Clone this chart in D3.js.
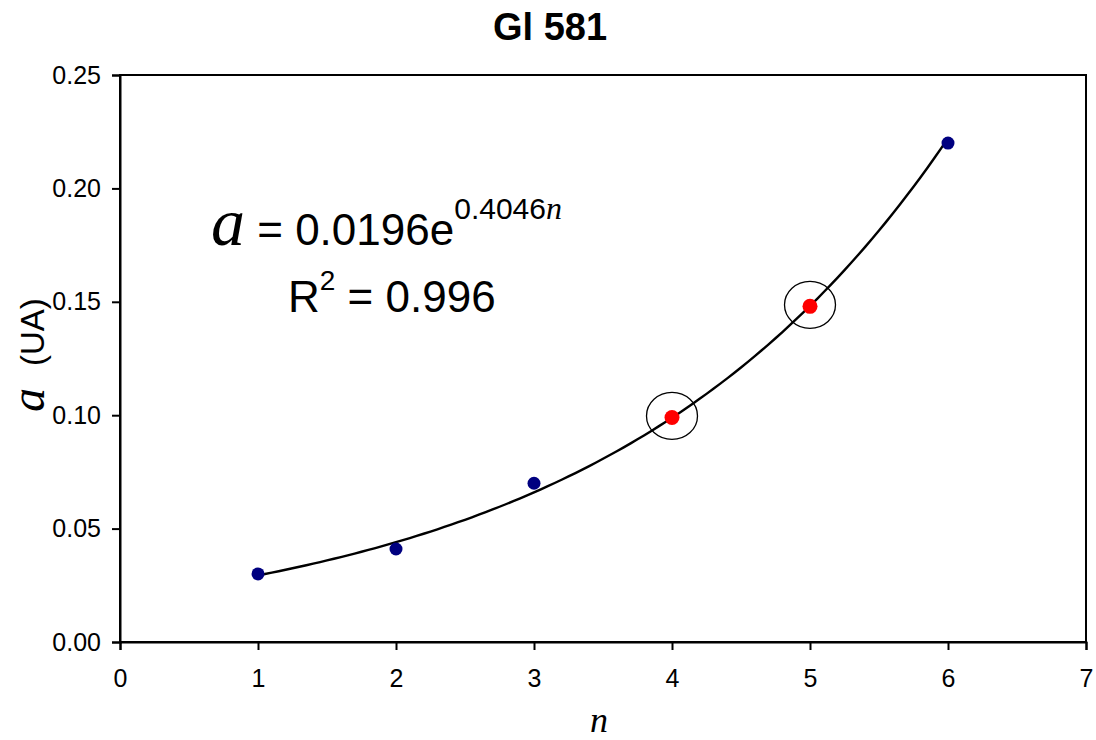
<!DOCTYPE html>
<html>
<head>
<meta charset="utf-8">
<script src="https://cdn.jsdelivr.net/npm/d3@7"></script>
<style>
  html, body { margin: 0; padding: 0; background: #fff; }
  svg { display: block; }
</style>
</head>
<body>
<svg id="chart" width="1096" height="740"></svg>
<script>
// Observed semi-major axis values for the Gl 581 planets, indexed by n
const nValues = [1, 2, 3, 4, 5, 6];
const aValues = [0.030, 0.041, 0.070, 0.099, 0.148, 0.220];
const highlighted = [4, 5];            // orbits drawn in red and ringed
const fitCoeff = 0.0196;               // a = A * exp(B n)
const fitExp = 0.4046;
const rSquared = "0.996";
const xTicks = [0, 1, 2, 3, 4, 5, 6, 7];
const yTicks = [0, 0.05, 0.10, 0.15, 0.20, 0.25];

const svg = d3.select("#chart");
const margin = { left: 120, right: 10, top: 75, bottom: 98 };
const W = 1096, H = 740;

const x = d3.scaleLinear().domain([0, 7]).range([margin.left, W - margin.right]);
const y = d3.scaleLinear().domain([0, 0.25]).range([H - margin.bottom, margin.top]);

// plot frame
svg.append("rect")
  .attr("x", x(0)).attr("y", y(0.25))
  .attr("width", x(7) - x(0)).attr("height", y(0) - y(0.25))
  .attr("fill", "none").attr("stroke", "#000").attr("stroke-width", 2);

const sans = "'Liberation Sans', Arial, sans-serif";
const serif = "'Liberation Serif', 'Times New Roman', serif";

// axes
const xAxis = svg.append("g")
  .attr("transform", `translate(0,${y(0)})`)
  .call(d3.axisBottom(x).tickValues(xTicks).tickFormat(d3.format("d")).tickSize(8).tickPadding(19));
const yAxis = svg.append("g")
  .attr("transform", `translate(${x(0)},0)`)
  .call(d3.axisLeft(y).tickValues(yTicks).tickFormat(d3.format(".2f")).tickSize(8).tickPadding(11));
[xAxis, yAxis].forEach(g => {
  g.select(".domain").attr("stroke-width", 2).attr("stroke", "#000");
  g.selectAll(".tick line").attr("stroke-width", 2).attr("stroke", "#000");
  g.selectAll(".tick text").attr("font-family", sans).attr("font-size", 25).attr("fill", "#000");
});

// exponential fit curve
const curveN = d3.range(1, 6.0001, 0.05);
const line = d3.line()
  .x(d => x(d))
  .y(d => y(fitCoeff * Math.exp(fitExp * d)))
  .curve(d3.curveMonotoneX);
svg.append("path")
  .datum(curveN)
  .attr("d", line)
  .attr("fill", "none")
  .attr("stroke", "#000")
  .attr("stroke-width", 2.4);

// data points
const pts = nValues.map((n, i) => ({ n, a: aValues[i], hi: highlighted.includes(n) }));
svg.selectAll("circle.pt")
  .data(pts)
  .join("circle")
  .attr("class", "pt")
  .attr("cx", d => x(d.n))
  .attr("cy", d => y(d.a))
  .attr("r", d => d.hi ? 7.5 : 6.5)
  .attr("fill", d => d.hi ? "#ff0000" : "#000080");

// rings around highlighted orbits
svg.selectAll("ellipse.ring")
  .data(pts.filter(d => d.hi))
  .join("ellipse")
  .attr("class", "ring")
  .attr("cx", d => x(d.n))
  .attr("cy", d => y(d.a) - 1.5)
  .attr("rx", 25.5)
  .attr("ry", 23.5)
  .attr("fill", "none")
  .attr("stroke", "#000")
  .attr("stroke-width", 1.3);

// title
svg.append("text")
  .attr("x", 550).attr("y", 40)
  .attr("text-anchor", "middle")
  .attr("font-family", sans).attr("font-weight", "bold").attr("font-size", 38)
  .text("Gl 581");

// fit equation
const eq = svg.append("text")
  .attr("x", 211).attr("y", 245)
  .attr("font-family", sans).attr("font-size", 44);
eq.append("tspan").attr("font-family", serif).attr("font-style", "italic").attr("font-size", 68).text("a");
eq.append("tspan").text(" = " + fitCoeff + "e");
eq.append("tspan").attr("font-size", 30).attr("dy", -26).text(String(fitExp));
eq.append("tspan").attr("font-family", serif).attr("font-style", "italic").attr("font-size", 32).text("n");

const r2 = svg.append("text")
  .attr("x", 288).attr("y", 312)
  .attr("font-family", sans).attr("font-size", 44);
r2.append("tspan").text("R");
r2.append("tspan").attr("font-size", 28).attr("dy", -22).text("2");
r2.append("tspan").attr("dy", 22).text(" = " + rSquared);

// axis titles
const yl = svg.append("text")
  .attr("transform", "translate(44,412) rotate(-90)")
  .attr("font-family", sans).attr("font-size", 33);
yl.append("tspan").attr("font-family", serif).attr("font-style", "italic").attr("font-size", 48).text("a");
yl.append("tspan").attr("dx", 22).text("(UA)");

svg.append("text")
  .attr("x", 599).attr("y", 732)
  .attr("text-anchor", "middle")
  .attr("font-family", serif).attr("font-style", "italic").attr("font-size", 36)
  .text("n");
</script>
</body>
</html>
